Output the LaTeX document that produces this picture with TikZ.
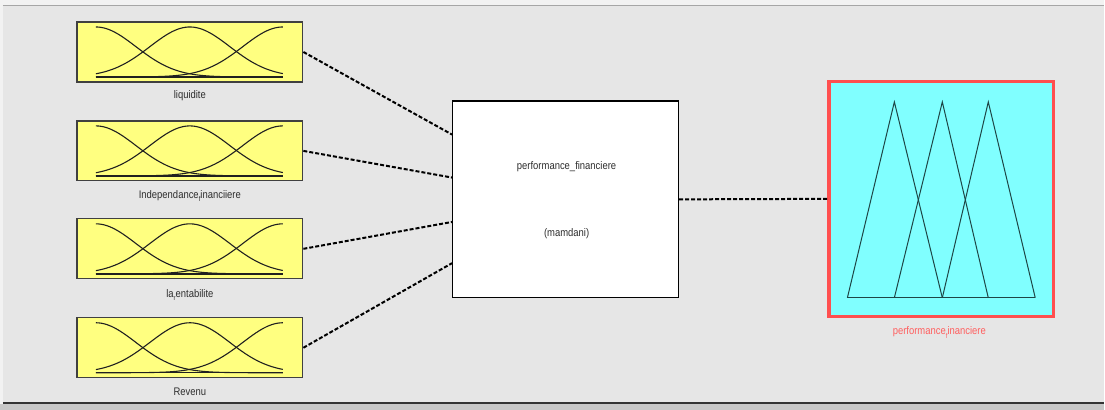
\documentclass[tikz,border=0pt]{standalone}
\usepackage{fontspec}
\setmainfont{Liberation Sans}
\newfontfamily\labfont[FakeStretch=0.86]{Liberation Sans}
\usetikzlibrary{calc}
\definecolor{panel}{HTML}{E6E6E6}
\definecolor{strip}{HTML}{F2F2F2}
\definecolor{inyellow}{HTML}{FFFF80}
\definecolor{outcyan}{HTML}{80FFFF}
\definecolor{outred}{HTML}{FF4F4F}
\definecolor{labred}{HTML}{FF5F5F}
\definecolor{mfline}{HTML}{202020}
\definecolor{triline}{HTML}{1E4646}
\newcommand{\subf}[1]{\raisebox{-3.5pt}{\fontsize{7}{7}\selectfont #1}}
\tikzset{
  inbox/.style={draw=black!75, line width=1.2pt, fill=inyellow, minimum width=226pt, minimum height=60pt, inner sep=0pt},
  fisbox/.style={draw=black, line width=1.3pt, fill=white, minimum width=226pt, minimum height=197pt, inner sep=0pt},
  outbox/.style={draw=outred, line width=3.5pt, fill=outcyan, minimum width=225pt, minimum height=235pt, inner sep=0pt},
  lbl/.style={font=\labfont\fontsize{11}{12}\selectfont, text=black!82, inner sep=0pt},
  link/.style={draw=black, line width=2pt, dash pattern=on 4pt off 2pt},
  mf/.style={draw=mfline, line width=1.1pt},
}
\begin{document}
\begin{tikzpicture}[x=1pt,y=-1pt]
% window background
\fill[strip] (0,0) rectangle (1105,410);
\fill[panel] (3,6) rectangle (1105,403);
\draw[black!35, line width=1.2pt] (3,5.5) -- (1105,5.5);
\fill[black!22] (0,404) rectangle (1105,410);
\draw[black!80, line width=1.6pt] (3,403.5) -- (1105,403.5);
\useasboundingbox (0,0) rectangle (1105,410);

% input variables
\node[inbox] (in1) at (190,52) {};
\node[inbox] (in2) at (190,151) {};
\node[inbox] (in3) at (190,249) {};
\node[inbox] (in4) at (190,348) {};
\foreach \n in {in1,in2,in3,in4}{
  \begin{scope}[shift={(\n.center)}]
    \draw[mf] plot[domain=-94:93, samples=70, smooth] (\x, {25 - 50*exp(-0.5*((\x+94)/40)^2)});
    \draw[mf] plot[domain=-94:93, samples=70, smooth] (\x, {25 - 50*exp(-0.5*((\x)/40)^2)});
    \draw[mf] plot[domain=-94:93, samples=70, smooth] (\x, {25 - 50*exp(-0.5*((\x-93)/40)^2)});
    \draw[mfline, line width=1.4pt] (-94,25) -- (93,25);
  \end{scope}
}
\node[lbl] (l1) at (190,96) {liquidite};
\node[lbl] (l2) at (190,196) {Independance\subf{f}inanciiere};
\node[lbl] (l3) at (190,295) {la\subf{r}entabilite};
\node[lbl] (l4) at (190,392) {Revenu};

% inference system
\node[fisbox] (fis) at (566,199.5) {};
\node[lbl] (fname) at (567,167) {performance\_financiere};
\node[lbl] (ftype) at (567,234) {(mamdani)};

% output variable
\node[outbox] (out) at (942,199) {};
\draw[triline, line width=1pt] (848,298) -- (895,102) -- (943,298);
\draw[triline, line width=1pt] (895,298) -- (943,102) -- (989,298);
\draw[triline, line width=1pt] (943,298) -- (989,102) -- (1036,298);
\draw[triline, line width=1.4pt] (848,298) -- (1036,298);
\node[lbl, text=labred] (lout) at (940,333) {performance\subf{f}inanciere};

% connections
\coordinate (e1) at ($(fis.north west)!0.173!(fis.south west)$);
\coordinate (e2) at ($(fis.north west)!0.39!(fis.south west)$);
\coordinate (e3) at ($(fis.north west)!0.614!(fis.south west)$);
\coordinate (e4) at ($(fis.north west)!0.822!(fis.south west)$);
\draw[link] (in1.east) -- (e1);
\draw[link] (in2.east) -- (e2);
\draw[link] (in3.east) -- (e3);
\draw[link] (in4.east) -- (e4);
\draw[link] (fis.east) -- (out.west);
\end{tikzpicture}
\end{document}
